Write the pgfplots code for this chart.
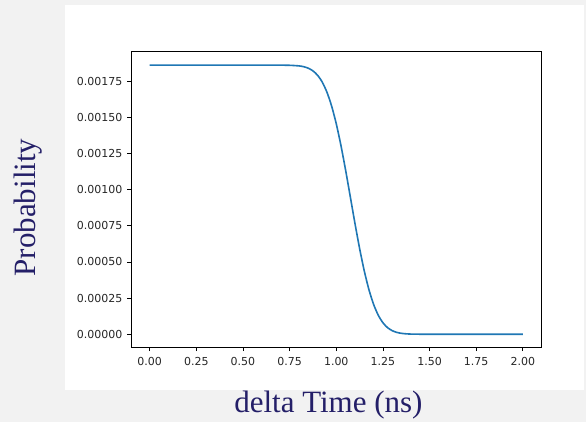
\documentclass[border=0pt]{standalone}
\usepackage{pgfplots}
\pgfplotsset{compat=1.18}
\usepackage{fontspec}
\newfontfamily\ticksfont{DejaVu Sans}
\newfontfamily\labelfont{Liberation Serif}
\definecolor{pagebg}{RGB}{242,242,242}
\definecolor{labelnavy}{RGB}{36,31,104}
\definecolor{tickgray}{RGB}{38,38,38}
\definecolor{mplblue}{HTML}{1F77B4}
\begin{document}
\begin{tikzpicture}[x=1pt,y=1pt]
  \useasboundingbox (0,0) rectangle (586,422);
  % page background and the white figure panel
  \fill[pagebg] (0,0) rectangle (586,422);
  \fill[white] (65,32) rectangle (584,417);
  \begin{axis}[
    at={(131pt,74.3pt)}, anchor=south west,
    scale only axis, width=410.5pt, height=296pt,
    xmin=-0.1, xmax=2.1,
    ymin=-0.000093, ymax=0.001953,
    xtick={0,0.25,...,2.0},
    ytick={0,0.00025,0.0005,0.00075,0.001,0.00125,0.0015,0.00175},
    scaled y ticks=false, scaled x ticks=false,
    tick align=outside, major tick length=3.5pt,
    xtick pos=bottom, ytick pos=left,
    axis line style={black, line width=0.8pt},
    tick style={black, line width=0.8pt},
    tick label style={font=\ticksfont\fontsize{11}{13}\selectfont, text=tickgray},
    xticklabel style={yshift=-2.4pt, /pgf/number format/.cd, fixed, fixed zerofill, precision=2, assume math mode=true},
    yticklabel style={xshift=-1.5pt, /pgf/number format/.cd, fixed, fixed zerofill, precision=5, assume math mode=true},
    clip=true,
  ]
    \addplot[mplblue, line width=1.6pt, smooth, tension=0.4] coordinates {
      (0.000,0.0018600) (0.250,0.0018600) (0.500,0.0018600) (0.700,0.0018598)
      (0.750,0.0018590) (0.800,0.0018549) (0.825,0.0018494) (0.850,0.0018390)
      (0.875,0.0018206) (0.900,0.0017902) (0.925,0.0017428) (0.950,0.0016735)
      (0.975,0.0015782) (1.000,0.0014551) (1.025,0.0013056) (1.050,0.0011351)
      (1.075,0.0009523) (1.100,0.0007681) (1.125,0.0005937) (1.150,0.0004385)
      (1.175,0.0003088) (1.200,0.0002069) (1.225,0.0001317) (1.250,0.0000795)
      (1.275,0.0000454) (1.300,0.0000246) (1.325,0.0000126) (1.350,0.0000061)
      (1.375,0.0000028) (1.400,0.0000012) (1.450,0.0000002) (1.500,0.0000000)
      (1.750,0.0000000) (2.000,0.0000000)
    };
  \end{axis}
  % outer axis titles
  \node[labelnavy, font=\labelfont\fontsize{31}{36}\selectfont, rotate=90, anchor=base, inner sep=0pt] at (35.2,214.5) {Probability};
  \node[labelnavy, font=\labelfont\fontsize{31}{36}\selectfont, anchor=base, inner sep=0pt] at (328.4,9) {delta Time (ns)};
\end{tikzpicture}
\end{document}
